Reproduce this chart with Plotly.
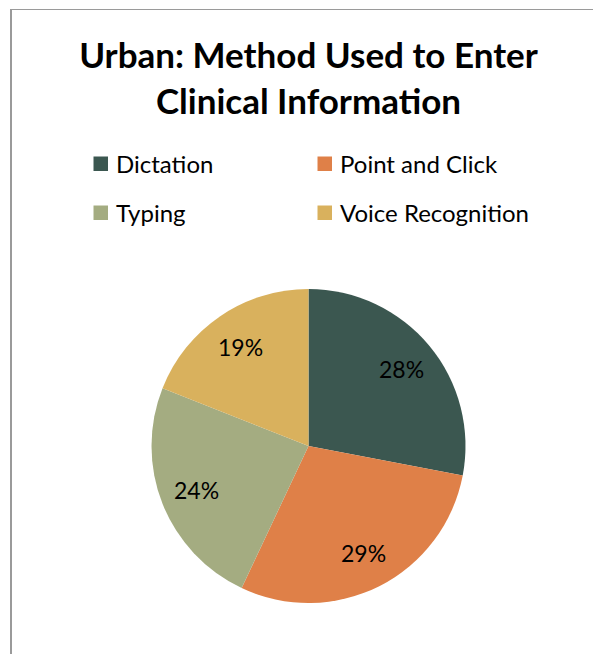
import math
import plotly.graph_objects as go

categories = ["Dictation", "Point and Click", "Typing", "Voice Recognition"]
values = [28, 29, 24, 19]
colors = ["#3B5750", "#DF8048", "#A4AC81", "#D9B15D"]

W, H = 593, 654
FONT = "Lato"

def px(x):
    return x / W

def py(y):
    return 1 - y / H

# pie geometry in pixels
CX, CY, R = 308.5, 446, 157
LABEL_FRAC = 0.765

fig = go.Figure()
fig.add_trace(go.Pie(
    labels=categories,
    values=values,
    marker=dict(colors=colors, line=dict(width=0)),
    sort=False,
    direction="clockwise",
    rotation=0,
    textinfo="none",
    showlegend=False,
    domain=dict(x=[px(CX - R), px(CX + R)], y=[py(CY + R), py(CY - R)]),
    hoverinfo="label+percent",
))

shapes = [
    dict(type="line", xref="paper", yref="paper", x0=px(11), x1=px(11), y0=py(9.5), y1=py(700),
         line=dict(color="#9A9A9A", width=2)),
    dict(type="line", xref="paper", yref="paper", x0=px(10), x1=px(650), y0=py(9.5), y1=py(9.5),
         line=dict(color="#9A9A9A", width=1.2)),
]
annotations = []

# percentage labels placed at each slice's mid-angle (computed from the values)
total = sum(values)
cum = 0
for v in values:
    mid = (cum + v / 2) / total * 2 * math.pi
    cum += v
    lx = CX + R * LABEL_FRAC * math.sin(mid)
    ly = CY - R * LABEL_FRAC * math.cos(mid)
    annotations.append(dict(text=f"{round(v / total * 100)}%", xref="paper", yref="paper",
                            x=px(lx), y=py(ly), xanchor="center", yanchor="middle",
                            showarrow=False,
                            font=dict(family=FONT, size=23, color="black")))

# Manual legend, two columns, built from the category list
col_x = [93.5, 317.5]
row_y = [164, 213]
for i, (cat, col) in enumerate(zip(categories, colors)):
    cx = col_x[i % 2]
    cy = row_y[i // 2]
    shapes.append(dict(type="rect", xref="paper", yref="paper",
                       x0=px(cx), x1=px(cx + 14.5), y0=py(cy - 7.5), y1=py(cy + 7),
                       fillcolor=col, line=dict(width=0)))
    annotations.append(dict(text=cat, xref="paper", yref="paper", x=px(cx + 20), y=py(cy),
                            xanchor="left", yanchor="middle", showarrow=False,
                            font=dict(family=FONT, size=24, color="black")))

fig.update_layout(
    width=W, height=H,
    margin=dict(l=0, r=0, t=0, b=0),
    paper_bgcolor="white",
    plot_bgcolor="white",
    title=dict(
        text="Urban: Method Used to Enter<br>Clinical Information",
        x=px(308.5), xanchor="center",
        y=py(68), yanchor="middle",
        font=dict(family=FONT, size=35, color="black", weight="bold"),
    ),
    shapes=shapes,
    annotations=annotations,
)

fig.write_html("out.html")
